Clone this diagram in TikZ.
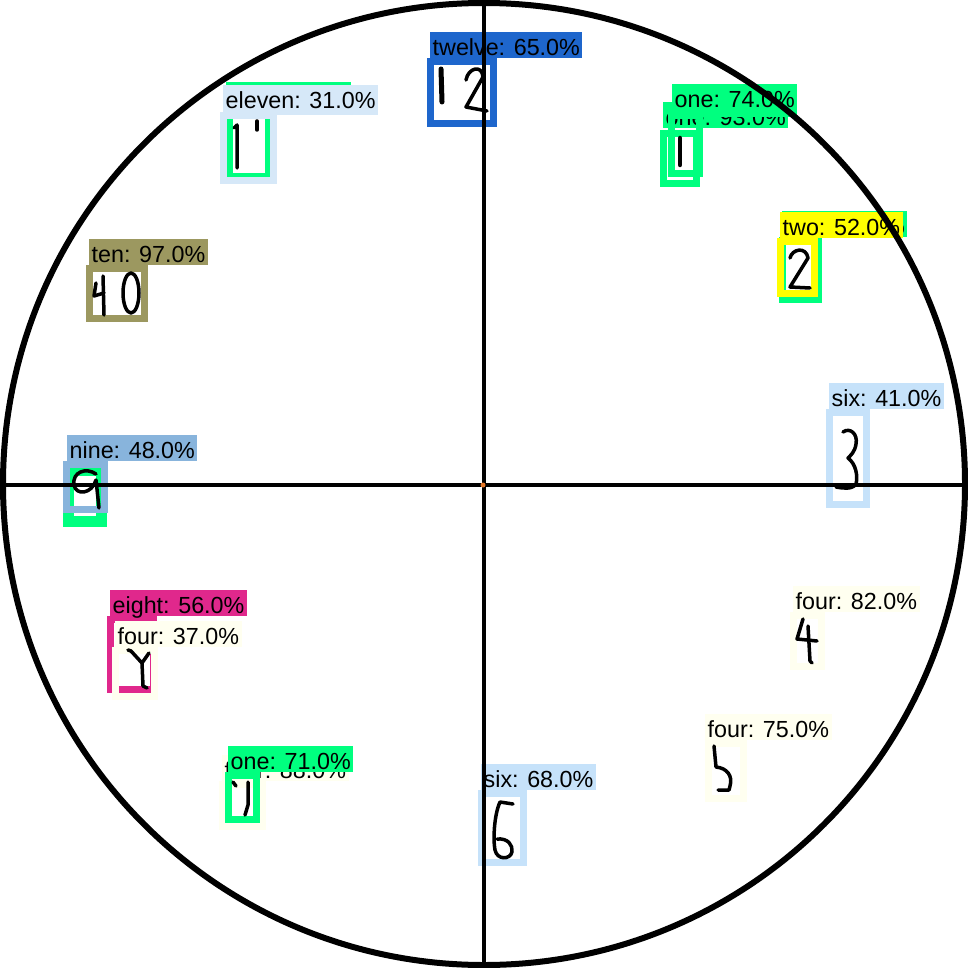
\documentclass[tikz,border=0pt]{standalone}
\usepackage{fontspec}
\setmainfont{Liberation Sans}
\usepackage{tikz}

\definecolor{blueT}{RGB}{30,102,204}
\definecolor{paleA}{RGB}{214,232,248}
\definecolor{paleB}{RGB}{198,226,250}
\definecolor{greenS}{RGB}{0,255,127}
\definecolor{yellowT}{RGB}{255,255,0}
\definecolor{oliveT}{RGB}{156,152,96}
\definecolor{steelT}{RGB}{136,180,220}
\definecolor{magT}{RGB}{224,40,140}
\definecolor{ivoryT}{RGB}{255,255,240}
\definecolor{dotT}{RGB}{230,120,40}

\begin{document}
\begin{tikzpicture}[x=1pt, y=-1pt,
    box/.style={line width=7pt},
    tag/.style={anchor=south west, inner xsep=2.5pt, inner ysep=1.5pt, text height=22pt, text depth=1pt, font=\fontsize{23.3}{24}\selectfont},
    digit/.style={line width=3.5pt, line cap=round, line join=round}
]
    \useasboundingbox (0,0) rectangle (968,968);

    % twelve
    \draw[box, blueT] (430.5,61.5) rectangle (493.5,123.5);
    \node[tag, fill=blueT] (twelve) at (430,58) {twelve: 65.0\%};
    \draw[digit, line width=5pt] (441,69) -- (442,102);
    \draw[digit] (466,80) .. controls (468,68) and (482,64) .. (483,77) -- (466,107) -- (487,111);

    % eleven
    \draw[box, greenS] (229.5,111.5) rectangle (268.5,176.5);
    \node[tag, fill=greenS] (elevenB) at (226,108) {one: 51.0\%};
    \draw[box, paleA] (223.5,115.5) rectangle (273.5,180.5);
    \node[tag, fill=paleA, text depth=5pt] (eleven) at (223,115) {eleven: 31.0\%};
    \draw[digit] (234,128) -- (237,125) -- (237,168);
    \draw[digit] (257,121) -- (257,130);

    % one
    \draw[box, greenS] (663.5,133.5) rectangle (696.5,183.5);
    \node[tag, fill=greenS] (oneB) at (663,128) {one: 93.0\%};
    \draw[box, greenS] (671.5,115.5) rectangle (699.5,173.5);
    \node[tag, fill=greenS, text depth=8pt] (one) at (672,117) {one: 74.0\%};
    \draw[digit, line width=4.5pt] (680,138) -- (680,165);

    % two
    \draw[box, greenS] (782,240.5) rectangle (818.5,299.5);
    \node[tag, fill=greenS] (twoB) at (782,237) {one: 36.0\%};
    \draw[box, yellowT] (780.5,241.5) rectangle (814.5,293.5);
    \node[tag, fill=yellowT] (two) at (780,238) {two: 52.0\%};
    \draw[digit] (790,258) .. controls (792,249) and (806,246) .. (808,258) -- (790,287) -- (810,288);

    % ten
    \draw[box, oliveT] (89.5,268.5) rectangle (144.5,318.5);
    \node[tag, fill=oliveT] (ten) at (89,265) {ten: 97.0\%};
    \draw[digit] (96,283) -- (94,296) -- (104,293);
    \draw[digit] (103,276) -- (104,315);
    \draw[digit] (131,293) ellipse (8 and 20);

    % three
    \draw[box, paleB] (829.5,412.5) rectangle (866.5,504.5);
    \node[tag, fill=paleB] (three) at (829,409) {six: 41.0\%};
    \draw[digit] (843,432) .. controls (850,427) and (858,434) .. (856,444) .. controls (855,452) and (850,456) .. (848,458) .. controls (856,464) and (858,476) .. (856,484) .. controls (852,490) and (842,488) .. (836,487);

    % nine
    \draw[greenS, line width=11pt] (68.5,470) rectangle (101.5,521);
    \draw[box, steelT] (66.5,464.5) rectangle (104.5,509.5);
    \node[tag, fill=steelT] (nine) at (67,461) {nine: 48.0\%};
    \draw[digit] (96,474) .. controls (86,467) and (72,472) .. (74,485) .. controls (76,496) and (92,494) .. (96,480) -- (99,508);

    % eight / four
    \draw[box, magT] (110,619.5) rectangle (153,689);
    \node[tag, fill=magT] (eight) at (110,616) {eight: 56.0\%};
    \draw[box, ivoryT] (115.5,650.5) rectangle (154.5,696);
    \node[tag, fill=ivoryT] (fourA) at (115,647) {four: 37.0\%};
    \draw[digit] (128,650) -- (131,651) -- (142,663);
    \draw[digit] (149,653) -- (142,663) -- (143,686) -- (147,688);

    % four
    \draw[box, ivoryT] (793.5,615.5) rectangle (821.5,666.5);
    \node[tag, fill=ivoryT] (fourB) at (793,612) {four: 82.0\%};
    \draw[digit] (803,619) -- (797,639) -- (817,641);
    \draw[digit] (808,626) -- (810,661) -- (812,663);

    % five
    \draw[box, ivoryT] (708.5,743.5) rectangle (743.5,798.5);
    \node[tag, fill=ivoryT] (five) at (705,740) {four: 75.0\%};
    \draw[digit] (714,746) -- (716,767) .. controls (727,768) and (733,776) .. (730,786) -- (729,790) -- (718,790);

    % seven
    \draw[box, ivoryT] (222,784) rectangle (262,826);
    \node[tag, fill=ivoryT] (sevenB) at (222,781) {four: 88.0\%};
    \draw[box, greenS] (228.5,775.5) rectangle (256.5,819.5);
    \node[tag, fill=greenS] (seven) at (228,772) {one: 71.0\%};
    \draw[digit] (233,782) -- (236,786);
    \draw[digit] (248,782) -- (248,805) -- (245,815);

    % six
    \draw[box, paleB] (481.5,793.5) rectangle (523.5,862.5);
    \node[tag, fill=paleB] (six) at (481,790) {six: 68.0\%};
    \draw[digit] (513,804) -- (500,802) .. controls (494,815) and (493,840) .. (495,850) .. controls (497,860) and (510,860) .. (512,852) .. controls (513,845) and (508,838) .. (497,839);

    % Clock face
    \coordinate (c) at (484,484);
    \draw[line width=4pt] (484,0) -- (484,968);
    \draw[line width=4pt] (0,485) -- (968,485);
    \draw[line width=6pt] (c) circle (481);
    \fill[dotT] (483,485) circle (2.5);
\end{tikzpicture}
\end{document}
